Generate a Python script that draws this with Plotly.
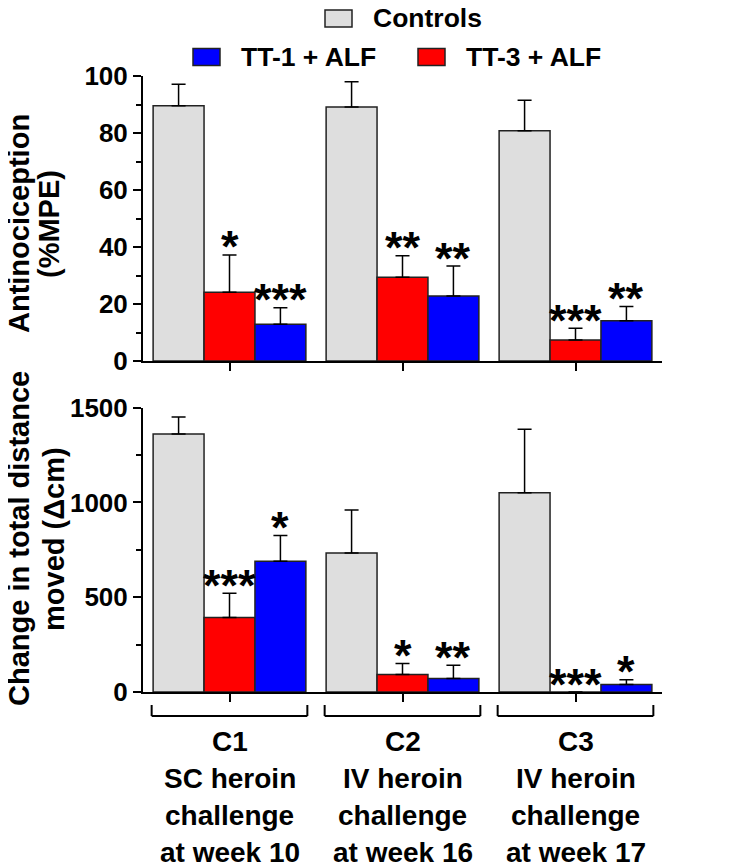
import plotly.graph_objects as go

# groups and series
groups = ["C1", "C2", "C3"]
group_labels = [
    ["C1", "SC heroin", "challenge", "at week 10"],
    ["C2", "IV heroin", "challenge", "at week 16"],
    ["C3", "IV heroin", "challenge", "at week 17"],
]
series_names = ["Controls", "TT-3 + ALF", "TT-1 + ALF"]
series_colors = ["#dedede", "#ff0000", "#0000ff"]

# top panel: antinociception (%MPE), mean and SEM
mpe_controls = [89.6, 89.1, 80.8]
mpe_controls_err = [7.5, 8.9, 10.7]
mpe_tt3 = [24.1, 29.4, 7.4]
mpe_tt3_err = [13.1, 7.5, 4.1]
mpe_tt1 = [12.9, 22.8, 14.1]
mpe_tt1_err = [5.8, 10.5, 5.0]
mpe_stars_tt3 = ["*", "**", "***"]
mpe_stars_tt1 = ["***", "**", "**"]

# bottom panel: change in total distance moved (delta cm)
dist_controls = [1361, 733, 1051]
dist_controls_err = [90, 227, 335]
dist_tt3 = [393, 92, 0]
dist_tt3_err = [128, 58, 0]
dist_tt1 = [690, 71, 39]
dist_tt1_err = [136, 70, 26]
dist_stars_tt3 = ["***", "*", "***"]
dist_stars_tt1 = ["*", "**", "*"]

# the page body has an 8px margin, so the figure is drawn 8px smaller
# and everything below is placed in window pixels
OFF = 8
W, H = 741 - OFF, 867 - OFF
ML, MR, MT, MB = 135, 79, 68, 175
PW, PH = W - ML - MR, H - MT - MB
BARGAP = 0.117
FONT = "Liberation Sans, Arial, Helvetica, sans-serif"


def px_x(px):
    # window pixel -> paper x
    return (px - OFF - ML) / PW


def px_y(py):
    # window pixel -> paper y
    return (H - MB - (py - OFF)) / PH


top_dom = [px_y(361), 1.0]
bot_dom = [0.0, px_y(407.7)]

fig = go.Figure()

panels = [
    ("x", "y", [mpe_controls, mpe_tt3, mpe_tt1], [mpe_controls_err, mpe_tt3_err, mpe_tt1_err],
     [None, mpe_stars_tt3, mpe_stars_tt1]),
    ("x2", "y2", [dist_controls, dist_tt3, dist_tt1], [dist_controls_err, dist_tt3_err, dist_tt1_err],
     [None, dist_stars_tt3, dist_stars_tt1]),
]

bar_px = PW / 3 * (1 - BARGAP) / 3
annotations = []

for xa, ya, vals, errs, stars in panels:
    for i, name in enumerate(series_names):
        fig.add_trace(go.Bar(
            x=groups, y=vals[i], name=name, xaxis=xa, yaxis=ya,
            marker=dict(color=series_colors[i], line=dict(color="#222222", width=1.5)),
            error_y=dict(type="data", array=errs[i], arrayminus=[0] * len(groups),
                         symmetric=False, color="black", thickness=1.5, width=7),
            showlegend=False,
        ))
        if stars[i] is None:
            continue
        for j, g in enumerate(groups):
            annotations.append(dict(
                x=g, y=vals[i][j] + errs[i][j], xref=xa, yref=ya,
                text=stars[i][j], showarrow=False,
                xshift=(i - 1) * bar_px, yshift=8,
                yanchor="middle", xanchor="center",
                font=dict(family=FONT, size=45, color="black", weight="bold"),
            ))

axis_common = dict(showline=True, linewidth=2, linecolor="black", showgrid=False,
                   zeroline=False, ticks="outside", ticklen=8, tickwidth=2, tickcolor="black")
tick_font = dict(family=FONT, size=26, color="black", weight="bold")

fig.update_layout(
    xaxis=dict(domain=[0, 1], anchor="y", range=[-0.5, 2.5], showticklabels=False, **axis_common),
    xaxis2=dict(domain=[0, 1], anchor="y2", range=[-0.5, 2.5], showticklabels=False, **axis_common),
    yaxis=dict(domain=top_dom, anchor="x", range=[0, 100], tick0=0, dtick=20,
               minor=dict(dtick=10, ticks="outside", ticklen=5, tickwidth=2, tickcolor="black"),
               tickfont=tick_font, **axis_common),
    yaxis2=dict(domain=bot_dom, anchor="x2", range=[0, 1500], tick0=0, dtick=500,
                minor=dict(dtick=250, ticks="outside", ticklen=5, tickwidth=2, tickcolor="black"),
                tickfont=tick_font, **axis_common),
    barmode="group", bargap=BARGAP, bargroupgap=0,
)

label_font = dict(family=FONT, size=28, color="black", weight="bold")

# category labels under the brackets
for j, g in enumerate(groups):
    for k, line in enumerate(group_labels[j]):
        annotations.append(dict(
            x=g, xref="x2", y=px_y(741 + k * 37.2), yref="paper", text=line,
            showarrow=False, xanchor="center", yanchor="middle", font=label_font,
        ))

# axis titles
title_font = dict(family=FONT, size=29, color="black", weight="bold")
for text, cx, cy in [("Antinociception", 19, 224), ("(%MPE)", 49, 224),
                     ("Change in total distance", 19, 539), ("moved (\u0394cm)", 54, 539)]:
    annotations.append(dict(
        x=px_x(cx), y=px_y(cy), xref="paper", yref="paper", text=text, textangle=-90,
        showarrow=False, xanchor="center", yanchor="middle", font=title_font,
    ))

# legend drawn by hand: box + label
legend_items = [(series_names[0], series_colors[0], 325, 18.5),
                (series_names[2], series_colors[2], 193, 57),
                (series_names[1], series_colors[1], 418, 57)]
shapes = []
for name, col, bx, cy in legend_items:
    shapes.append(dict(type="rect", xref="paper", yref="paper",
                       x0=px_x(bx), x1=px_x(bx + 27), y0=px_y(cy - 8.5), y1=px_y(cy + 8.5),
                       fillcolor=col, line=dict(color="#222222", width=1.5)))
    annotations.append(dict(x=px_x(bx + 46), y=px_y(cy), xref="paper", yref="paper", text=name,
                            showarrow=False, xanchor="left", yanchor="middle",
                            font=dict(family=FONT, size=26.5, color="black", weight="bold")))

# brackets under each group
yb0, yb1 = px_y(705), px_y(716)
for g in groups:
    shapes.append(dict(type="line", xref="x2", yref="paper", x0=g, x1=g, x0shift=-0.45, x1shift=0.45,
                       y0=yb1, y1=yb1, line=dict(color="black", width=2)))
    for s in (-0.45, 0.45):
        shapes.append(dict(type="line", xref="x2", yref="paper", x0=g, x1=g, x0shift=s, x1shift=s,
                           y0=yb0, y1=yb1, line=dict(color="black", width=2)))

fig.update_layout(
    width=W, height=H, margin=dict(l=ML, r=MR, t=MT, b=MB),
    plot_bgcolor="white", paper_bgcolor="white",
    annotations=annotations, shapes=shapes,
)

fig.write_html("out.html")
